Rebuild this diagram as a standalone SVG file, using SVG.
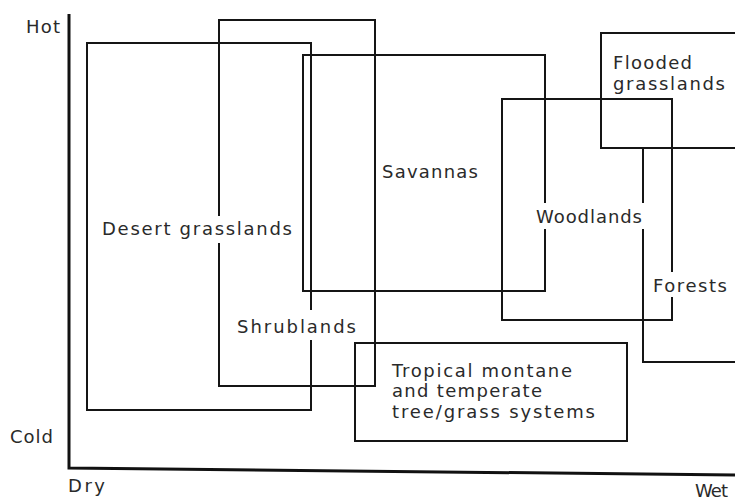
<svg xmlns="http://www.w3.org/2000/svg" width="735" height="502" viewBox="0 0 735 502">
<style>
.box{fill:none;stroke:#151515;stroke-width:2}
.axis{fill:none;stroke:#111;stroke-width:3}
.t{font-family:"DejaVu Sans","Liberation Sans",sans-serif;font-size:18px;fill:#2a2a2a}
.bg{fill:#fff}
</style>
<rect width="735" height="502" fill="#fff"/>
<g id="connectors">
<polyline class="axis" points="69,14 69,468 735,475"/>
</g>
<g id="boxes">
<g id="desert-grasslands"><rect class="box" x="87" y="43" width="224" height="367"/></g>
<g id="shrublands"><rect class="box" x="219" y="20" width="156" height="366"/></g>
<g id="savannas"><rect class="box" x="303" y="55" width="242" height="236"/></g>
<g id="woodlands"><rect class="box" x="502" y="99" width="170" height="221"/></g>
<g id="flooded-grasslands"><polyline class="box" points="737,33 601,33 601,148 737,148"/></g>
<g id="forests"><polyline class="box" points="643,148 643,362 737,362"/></g>
<g id="tropical-montane"><rect class="box" x="355" y="343" width="272" height="98"/></g>
</g>
<g id="labels">
<g id="label-desert"><rect class="bg" x="99" y="216" width="196" height="27"/><text class="t" x="102" y="235" textLength="190" lengthAdjust="spacing">Desert grasslands</text></g>
<g id="label-shrublands"><rect class="bg" x="234" y="310" width="125" height="30"/><text class="t" x="237" y="333" textLength="119" lengthAdjust="spacing">Shrublands</text></g>
<g id="label-savannas"><text class="t" x="382" y="178" textLength="96" lengthAdjust="spacing">Savannas</text></g>
<g id="label-woodlands"><rect class="bg" x="533" y="203" width="112" height="26"/><text class="t" x="536" y="223" textLength="106" lengthAdjust="spacing">Woodlands</text></g>
<g id="label-forests"><rect class="bg" x="650" y="272" width="80" height="25"/><text class="t" x="653" y="292" textLength="74" lengthAdjust="spacing">Forests</text></g>
<g id="label-flooded"><text class="t" x="613" y="69" textLength="79" lengthAdjust="spacing">Flooded</text><text class="t" x="613" y="90" textLength="112" lengthAdjust="spacing">grasslands</text></g>
<g id="label-tropical"><text class="t" x="392" y="377" textLength="180" lengthAdjust="spacing">Tropical montane</text><text class="t" x="392" y="397" textLength="150" lengthAdjust="spacing">and temperate</text><text class="t" x="392" y="418" textLength="203" lengthAdjust="spacing">tree/grass systems</text></g>
<g id="axis-labels"><text class="t" x="26" y="33" textLength="34" lengthAdjust="spacing">Hot</text><text class="t" x="10" y="443" textLength="43" lengthAdjust="spacing">Cold</text><text class="t" x="68" y="492" textLength="37" lengthAdjust="spacing">Dry</text><text class="t" x="695" y="497" textLength="33" lengthAdjust="spacing">Wet</text></g>
</g>
</svg>
